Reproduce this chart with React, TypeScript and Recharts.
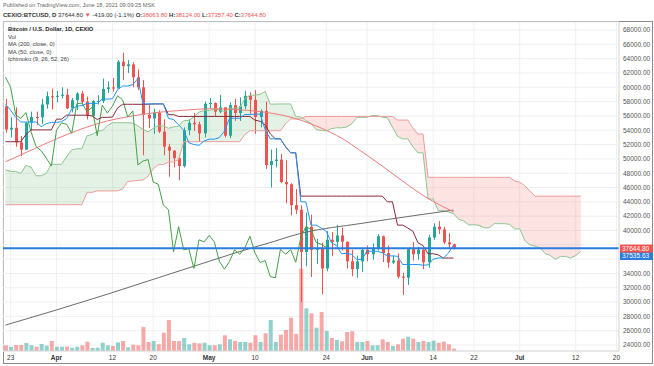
import React from "react";
import {
  ComposedChart,
  Bar,
  Line,
  Area,
  XAxis,
  YAxis,
  CartesianGrid,
  ReferenceLine,
  Cell,
} from "recharts";

// day index 0 = 2021-03-22, 88 = 2021-06-18 (last candle)
const opens = [
  57350, 54100, 54350, 52300, 51300, 55050, 55850, 55800, 57600, 58750,
  58700, 58800, 58970, 57060, 58200, 59120, 57990, 56000, 58080, 58090,
  59770, 59990, 59830, 63570, 62960, 63200, 61400, 60000, 56150, 55650,
  56470, 53800, 51700, 51150, 50100, 49000, 54000, 55030, 54830, 53560,
  57700, 57800, 56600, 57200, 53240, 57500, 56400, 57350, 58800, 58250,
  55850, 56700, 49150, 49700, 49900, 46760, 46450, 43540, 42900, 37000,
  40530, 37300, 37450, 34700, 38700, 38400, 39300, 38430, 35700, 34600,
  35680, 37300, 36680, 37570, 39190, 36850, 35520, 35800, 33560, 33400,
  37390, 36680, 37330, 35550, 39020, 40530, 40150, 38340, 38063.8,
];
const highs = [
  58400, 55800, 57200, 53200, 55100, 56600, 56600, 58400, 59400, 59800,
  59500, 60000, 59800, 58500, 59300, 59500, 58700, 58200, 58900, 61200,
  60800, 61300, 63800, 64850, 63800, 63500, 62500, 61000, 57500, 57000,
  56800, 55500, 52100, 51200, 50500, 54400, 55500, 56400, 55200, 58000,
  58500, 57900, 58950, 57200, 57900, 58400, 58600, 59500, 59300, 59600,
  56900, 58000, 51300, 51500, 50700, 49800, 46600, 45800, 43500, 42500,
  42200, 38800, 38300, 39900, 39800, 40800, 40400, 38450, 37300, 36500,
  37500, 37900, 38200, 39500, 39300, 37900, 36500, 36800, 34100, 37500,
  38400, 37700, 37450, 39400, 41000, 41300, 40500, 39600, 38124,
];
const lows = [
  53650, 53000, 51700, 50400, 51250, 53950, 54700, 54900, 57000, 56900,
  57900, 58450, 56950, 56500, 56800, 57600, 55500, 55900, 57600, 57800,
  59200, 59400, 59800, 61000, 62000, 60000, 59600, 50500, 54300, 53500,
  53600, 50500, 47500, 48800, 47000, 48800, 53300, 53900, 52400, 53000,
  57000, 56000, 56400, 53000, 52900, 55300, 55300, 56950, 56300, 53500,
  54400, 48600, 46000, 48800, 46600, 43800, 42100, 42300, 30000, 35000,
  33500, 35300, 31100, 34300, 36400, 37800, 37200, 34700, 33600, 33400,
  34200, 35700, 35900, 37200, 35600, 34800, 35300, 33300, 31000, 32400,
  35800, 35900, 34600, 34800, 38700, 39500, 38100, 37400, 37357.4,
];
const closes = [
  54100, 54350, 52300, 51300, 55050, 55850, 55800, 57600, 58750, 58700,
  58800, 58970, 57060, 58200, 59120, 57990, 56000, 58080, 58090, 59770,
  59990, 59830, 63570, 62960, 63200, 61400, 60000, 56150, 55650, 56470,
  53800, 51700, 51150, 50100, 49000, 54000, 55030, 54830, 53560, 57700,
  57800, 56600, 57200, 53240, 57500, 56400, 57350, 58800, 58250, 55850,
  56700, 49150, 49700, 49900, 46760, 46450, 43540, 42900, 37000, 40530,
  37300, 37450, 34700, 38700, 38400, 39300, 38430, 35700, 34600, 35680,
  37300, 36680, 37570, 39190, 36850, 35520, 35800, 33560, 33400, 37390,
  36680, 37330, 35550, 39020, 40530, 40150, 38340, 38063.8, 37644.8,
];
const volumes = [
  570, 400, 600, 600, 800, 570, 430, 700, 530, 1000,
  430, 430, 430, 330, 430, 570, 930, 300, 330, 830,
  570, 500, 870, 1000, 370, 630, 570, 2400, 900, 1000,
  670, 1830, 3100, 1000, 1000, 1300, 670, 830, 770, 830,
  570, 570, 670, 1570, 1170, 1000, 900, 900, 830, 1570,
  900, 1770, 3100, 900, 1630, 2100, 3330, 1700, 8230, 4270,
  3770, 2330, 3900, 2000, 1300, 1100, 970, 1900, 1970, 900,
  900, 1000, 570, 570, 1170, 900, 500, 670, 1230, 1430,
  1230, 900, 1000, 900, 1030, 830, 930, 670, 230,
];

// Ichimoku (9, 26, 52, 26)
const tenkan = [
  57600, 56800, 55800, 55150, 55150, 55150, 55150, 54500, 54900, 55100,
  55100, 55200, 55625, 56975, 57350, 57450, 57750, 57750, 57750, 58350,
  58350, 58400, 59650, 60175, 60175, 60375, 61225, 57675, 57675, 57675,
  57675, 57675, 55650, 55500, 54750, 54000, 52250, 52000, 51900, 52500,
  52750, 52750, 52975, 53875, 55675, 55675, 55675, 56200, 56200, 56250,
  56250, 54100, 52800, 52800, 52800, 51700, 50850, 50850, 44000, 44000,
  40750, 40750, 40350, 39900, 38300, 37900, 36750, 36800, 36650, 35950,
  35950, 37100, 37100, 37100, 36900, 36450, 36450, 36400, 35250, 35250,
  35250, 35250, 35150, 35200, 36000, 36150, 36150, 36850, 37950,
];
const kijun = [
  52400, 52400, 52400, 52400, 53400, 54050, 54050, 54050, 54050, 54050,
  55550, 55550, 56100, 56100, 56100, 56100, 56100, 56000, 55500, 55800,
  55800, 55850, 57100, 57625, 57625, 57625, 57625, 57625, 57625, 57675,
  57675, 57675, 56175, 56175, 55925, 55925, 55925, 55925, 55925, 55925,
  55925, 55925, 55925, 55925, 55925, 55925, 55925, 55925, 55925, 55400,
  55250, 54750, 53500, 52800, 52800, 51700, 50850, 50850, 44800, 44800,
  44800, 44800, 44800, 44800, 44800, 44800, 44800, 44800, 44800, 44800,
  44800, 44800, 44800, 44800, 44800, 44000, 44000, 40750, 40750, 40350,
  39900, 38300, 37900, 36750, 36750, 36600, 36150, 36150, 36150,
];
// leading spans, already plotted 25 bars ahead (index 0..113)
const spanA = [
  48475, 48250, 48250, 47975, 49075, 48860, 47640, 47640, 47990, 49240,
  49240, 49240, 50310, 51260, 51410, 51410, 53225, 53400, 53850, 53975,
  54650, 55050, 55050, 55050, 55050, 55000, 54600, 54100, 53775, 54275,
  54600, 54600, 54275, 54475, 54575, 55325, 55375, 55863, 56538, 56725,
  56775, 56925, 56875, 56625, 57075, 57075, 57125, 58375, 58900, 58900,
  59000, 59425, 57650, 57650, 57675, 57675, 57675, 55913, 55838, 55338,
  54963, 54088, 53963, 53913, 54213, 54338, 54338, 54450, 54900, 55800,
  55800, 55800, 56063, 56063, 55825, 55750, 54425, 53150, 52800, 52800,
  51700, 50850, 50850, 44400, 44400, 42775, 42775, 42575, 42350, 41550,
  41350, 40775, 40800, 40725, 40375, 40375, 40950, 40950, 40950, 40850,
  40225, 40225, 38575, 38000, 37800, 37575, 36775, 36525, 35975, 36375,
  36375, 36150, 36500, 37050,
];
const spanB = [
  43600, 43600, 43600, 43600, 43600, 43600, 43600, 43600, 43600, 43600,
  43600, 43600, 43600, 43600, 43600, 43600, 45325, 45325, 45525, 45525,
  45525, 45525, 45525, 45800, 46850, 46900, 47000, 47050, 47600, 48600,
  49200, 49200, 49575, 49575, 49900, 52400, 52400, 52400, 52400, 52400,
  52400, 52400, 52400, 52400, 52400, 52400, 52400, 53400, 53925, 53925,
  53925, 53925, 53925, 53925, 53925, 54925, 55575, 55575, 55575, 55925,
  55925, 55925, 55925, 55925, 55925, 55925, 55925, 55925, 55925, 55925,
  55925, 55925, 55925, 55925, 55925, 55925, 55925, 55425, 55425, 55425,
  54325, 53475, 53475, 47425, 47425, 47425, 47425, 47425, 47425, 47425,
  47425, 47425, 47425, 47425, 47425, 47425, 47425, 47425, 47425, 47425,
  46900, 46750, 46250, 45500, 44800, 44800, 44800, 44800, 44800, 44800,
  44800, 44800, 44800, 44800,
];
const LAG = 25;

// moving averages read at a few days, the curve runs through them
const ma200Pts: [number, number][] = [
  [0, 26790], [10, 28900], [20, 31100], [30, 33400], [40, 35700],
  [49, 37700], [51, 38100], [58, 39600], [70, 41000], [80, 42050], [88, 42850],
];
const ma50Pts: [number, number][] = [
  [0, 49600], [5, 51200], [10, 52800], [15, 54200], [20, 55300], [25, 56000],
  [30, 56500], [35, 56800], [40, 57000], [45, 56900], [50, 56600], [55, 56000],
  [58, 55400], [62, 54300], [66, 52900], [70, 51000], [74, 49000], [78, 46900],
  [82, 44900], [86, 43300], [88, 42600],
];

const xTicks = [1, 10, 21, 29, 40, 49, 63, 71, 84, 92, 101, 112, 120];
const xLabels = ["23", "Apr", "12", "20", "May", "10", "24", "Jun", "14", "22", "Jul", "12", "20"];
const priceTicks = [
  24000, 26000, 28000, 30000, 32000, 34000, 36000, 38000, 40000, 42000, 44000,
  46000, 48000, 50000, 52000, 54000, 56000, 58000, 60000, 62000, 64000, 66000, 68000,
];
// these two labels sit under the price tags
const hiddenPriceLabels = [36000, 38000];
const lastPrice = 37644.8;
const hLine = 37535.63;

const UP = "#26a69a";
const DOWN = "#ef5350";
const BLUE = "#2a7bdc";
const FONT = "'Liberation Sans', Arial, sans-serif";

const rows: any[] = spanA.map((a, n) => {
  const b = spanB[n];
  const r: any = {
    n,
    spanA: a,
    spanB: b,
    green: a >= b ? [b, a] : [a, a],
    red: b > a ? [a, b] : [a, a],
  };
  if (n < closes.length) {
    r.open = opens[n];
    r.close = closes[n];
    r.range = [lows[n], highs[n]];
    r.volume = volumes[n];
    r.tenkan = tenkan[n];
    r.kijun = kijun[n];
  }
  if (n + LAG < closes.length) r.lagging = closes[n + LAG];
  return r;
});
ma200Pts.forEach(([n, v]) => (rows[n].ma200 = v));
ma50Pts.forEach(([n, v]) => (rows[n].ma50 = v));

const Candle = (props: any) => {
  const { x, y, width, height, payload } = props;
  if (!payload || payload.open == null) return null;
  const [lo, hi] = payload.range;
  const top = Math.min(y, y + height);
  const h = Math.abs(height);
  const k = hi === lo ? 0 : h / (hi - lo);
  const yO = top + (hi - payload.open) * k;
  const yC = top + (hi - payload.close) * k;
  const color = payload.close >= payload.open ? UP : DOWN;
  const cx = Math.round(x + width / 2) + 0.5;
  return (
    <g>
      <line x1={cx} x2={cx} y1={top} y2={top + h} stroke={color} strokeWidth={1} />
      <rect x={cx - 1.5} y={Math.min(yO, yC)} width={3} height={Math.max(1, Math.abs(yC - yO))} fill={color} />
    </g>
  );
};

const DateTick = (props: any) => {
  const { x, payload } = props;
  const i = xTicks.indexOf(payload.value);
  const label = xLabels[i] ?? "";
  const month = /[A-Za-z]/.test(label);
  return (
    <text x={x} y={359.5} textAnchor="middle" fontSize={6.5} fontFamily={FONT} fill="#333" fontWeight={month ? 700 : 400}>
      {label}
    </text>
  );
};

const PriceTick = (props: any) => {
  const { y, payload } = props;
  if (hiddenPriceLabels.includes(payload.value)) return null;
  return (
    <text x={623} y={y + 2.3} fontSize={6.5} fontFamily={FONT} fill="#555">
      {payload.value.toFixed(2)}
    </text>
  );
};

const axisTag = (bg: string, text: string, dy: number) => (p: any) => {
  const vb = p.viewBox || {};
  const x = vb.x + vb.width + 1;
  const y = vb.y + dy;
  return (
    <g>
      <rect x={x} y={y - 4} width={33} height={8} fill={bg} />
      <text x={x + 2} y={y + 2.3} fontSize={6.5} fontFamily={FONT} fill="#fff">
        {text}
      </text>
    </g>
  );
};

const txt: React.CSSProperties = {
  position: "absolute",
  left: 8,
  fontFamily: FONT,
  fontSize: 5.8,
  color: "#444",
  whiteSpace: "nowrap",
  lineHeight: "7px",
};

export default function App() {
  return (
    <div style={{ position: "absolute", left: 0, top: 0, width: 654, height: 366, background: "#fff", overflow: "hidden" }}>
      <div style={{ position: "absolute", left: 3, top: 21, width: 648, height: 341, border: "1px solid #8c8c8c" }} />
      <ComposedChart
        width={654}
        height={366}
        data={rows}
        margin={{ top: 22, right: 0, bottom: 0, left: 3 }}
        style={{ position: "absolute", left: 0, top: 0 }}
      >
        <CartesianGrid yAxisId="price" stroke="#eef0f3" strokeWidth={1} />
        <XAxis
          dataKey="n"
          type="number"
          domain={[-0.5, 120.5]}
          allowDataOverflow
          ticks={xTicks}
          interval={0}
          height={15}
          tick={<DateTick />}
          tickLine={false}
          axisLine={{ stroke: "#d9d9d9" }}
        />
        <XAxis xAxisId="vol" dataKey="n" type="number" domain={[-0.5, 120.5]} allowDataOverflow hide />
        <YAxis
          yAxisId="price"
          orientation="right"
          type="number"
          domain={[23168, 69117]}
          allowDataOverflow
          ticks={priceTicks}
          interval={0}
          width={35}
          tick={<PriceTick />}
          tickLine={false}
          axisLine={{ stroke: "#d9d9d9" }}
        />
        <YAxis yAxisId="vol" type="number" domain={[0, 32900]} allowDataOverflow hide />

        <Area yAxisId="price" dataKey="green" type="linear" stroke="none" fill="rgba(67,160,71,0.14)" fillOpacity={1} isAnimationActive={false} />
        <Area yAxisId="price" dataKey="red" type="linear" stroke="none" fill="rgba(244,67,54,0.14)" fillOpacity={1} isAnimationActive={false} />
        <Line yAxisId="price" dataKey="spanA" type="linear" stroke="#8cc68e" strokeWidth={1} dot={false} isAnimationActive={false} />
        <Line yAxisId="price" dataKey="spanB" type="linear" stroke="#ef9a9a" strokeWidth={1} dot={false} isAnimationActive={false} />

        <Bar xAxisId="vol" yAxisId="vol" dataKey="volume" barSize={4} isAnimationActive={false}>
          {rows.map((r, i) => (
            <Cell key={i} fill={r.close >= r.open ? "rgba(38,166,154,0.5)" : "rgba(239,83,80,0.5)"} />
          ))}
        </Bar>

        <Line yAxisId="price" dataKey="ma200" type="monotone" connectNulls stroke="#6b6b6b" strokeWidth={1} dot={false} isAnimationActive={false} />
        <Line yAxisId="price" dataKey="ma50" type="monotone" connectNulls stroke="#f07b7b" strokeWidth={1} dot={false} isAnimationActive={false} />
        <Line yAxisId="price" dataKey="lagging" type="linear" stroke="#43a047" strokeWidth={1} dot={false} isAnimationActive={false} />
        <Line yAxisId="price" dataKey="kijun" type="linear" stroke="#8a2a3a" strokeWidth={1} dot={false} isAnimationActive={false} />
        <Line yAxisId="price" dataKey="tenkan" type="linear" stroke="#2196f3" strokeWidth={1} dot={false} isAnimationActive={false} />

        <Bar yAxisId="price" dataKey="range" barSize={4} shape={<Candle />} isAnimationActive={false} />

        <ReferenceLine yAxisId="price" y={hLine} stroke={BLUE} strokeWidth={2} label={axisTag(BLUE, "37535.63", 7.9)} />
        <ReferenceLine yAxisId="price" y={lastPrice} stroke="none" strokeOpacity={0} label={axisTag(DOWN, "37644.80", 1.2)} />
      </ComposedChart>

      <div style={{ ...txt, left: 3, top: 1.5, fontSize: 5.6, color: "#666" }}>Published on TradingView.com, June 18, 2021 09:09:25 MSK</div>
      <div style={{ ...txt, left: 3, top: 11.5, fontSize: 6, color: "#333" }}>
        <b>CEXIO:BTCUSD, D</b> 37644.80 <span style={{ color: DOWN }}>▼</span> -419.00 (-1.1%){" "}
        <b>O:</b><span style={{ color: DOWN }}>38063.80</span> <b>H:</b><span style={{ color: DOWN }}>38124.00</span>{" "}
        <b>L:</b><span style={{ color: DOWN }}>37357.40</span> <b>C:</b><span style={{ color: DOWN }}>37644.80</span>
      </div>

      <div style={{ ...txt, top: 25.5, fontWeight: 700, color: "#222" }}>Bitcoin / U.S. Dollar, 1D, CEXIO</div>
      <div style={{ ...txt, top: 33.5 }}>Vol</div>
      <div style={{ ...txt, top: 41 }}>MA (200, close, 0)</div>
      <div style={{ ...txt, top: 48.5 }}>MA (50, close, 0)</div>
      <div style={{ ...txt, top: 56 }}>Ichimoku (9, 26, 52, 26)</div>
    </div>
  );
}
